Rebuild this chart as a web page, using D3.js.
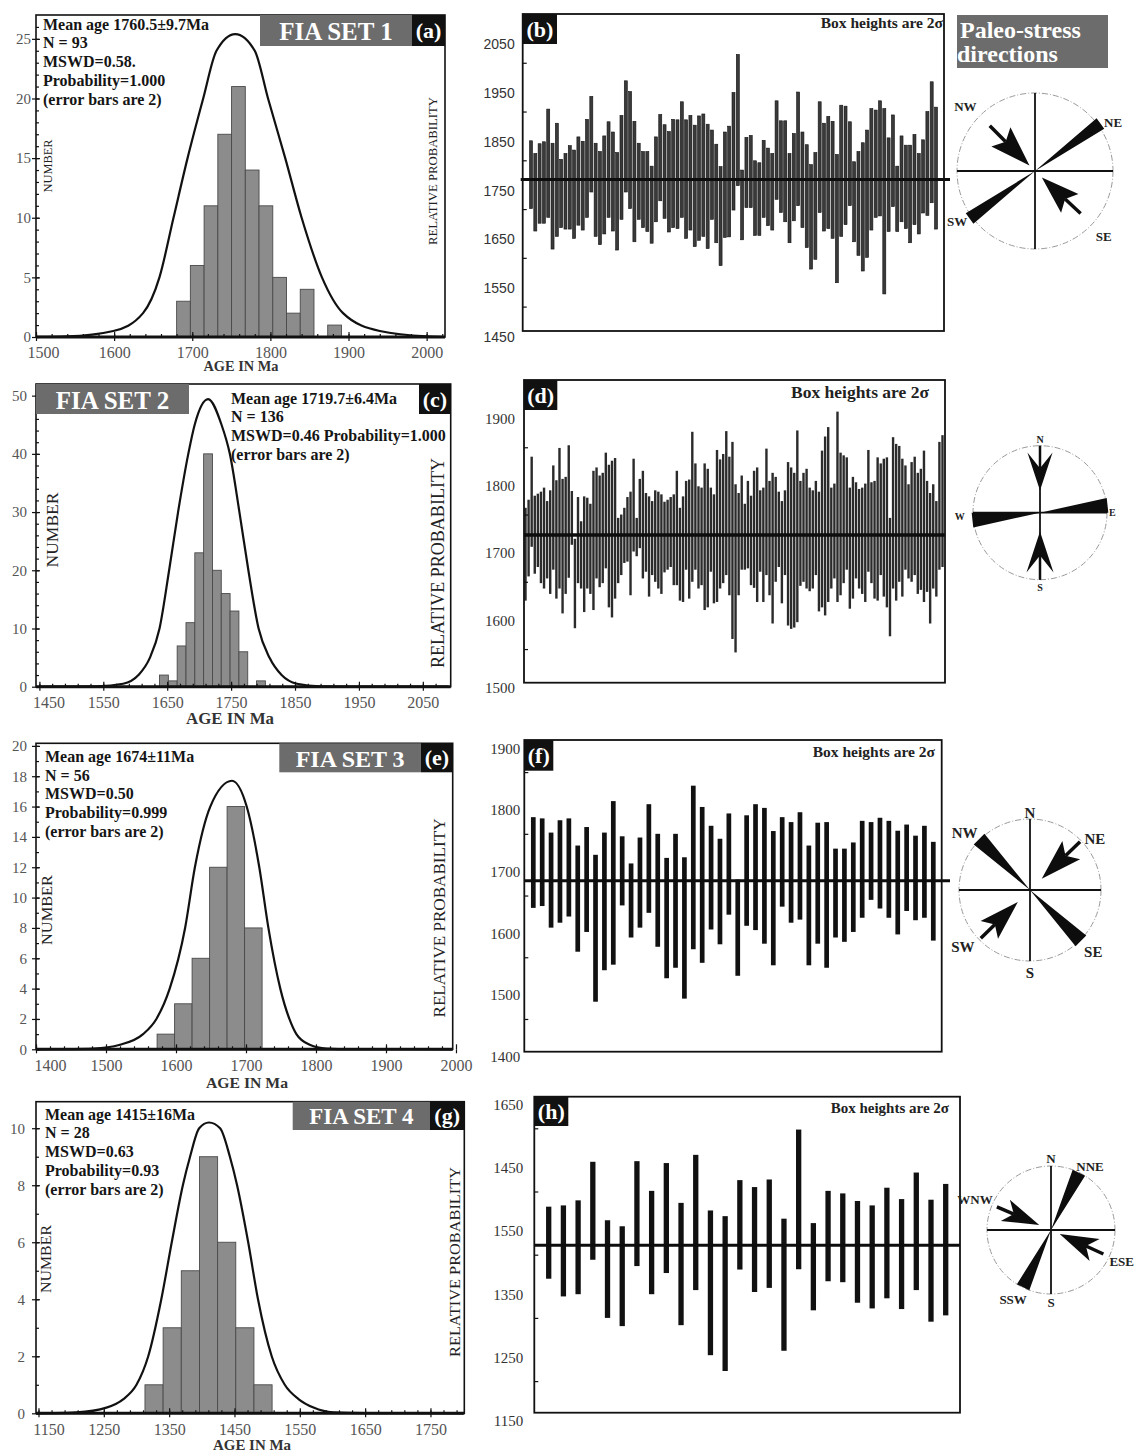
<!DOCTYPE html>
<html>
<head>
<meta charset="utf-8">
<script src="https://cdn.jsdelivr.net/npm/d3@7"></script>
<style>
  html,body{margin:0;padding:0;background:#fff;}
  svg{display:block;}
</style>
</head>
<body>
<svg id="fig" width="1137" height="1453"></svg>
<script>
// ---------------- data ----------------
const setNames = ["FIA SET 1", "FIA SET 2", "FIA SET 3", "FIA SET 4"];
const panelTags = ["(a)", "(b)", "(c)", "(d)", "(e)", "(f)", "(g)", "(h)"];
const meanAges = [1760.5, 1719.7, 1674, 1415];

const statsA = ["Mean age 1760.5±9.7Ma", "N = 93", "MSWD=0.58.", "Probability=1.000", "(error bars are 2)"];
const statsC = ["Mean age 1719.7±6.4Ma", "N = 136", "MSWD=0.46 Probability=1.000", "(error bars are 2)"];
const statsE = ["Mean age 1674±11Ma", "N = 56", "MSWD=0.50", "Probability=0.999", "(error bars are 2)"];
const statsG = ["Mean age 1415±16Ma", "N = 28", "MSWD=0.63", "Probability=0.93", "(error bars are 2)"];

// histogram bins (Ma) and counts
const binStarts = [1680, 1638, 1573, 1313];
const binWidths = [17.58, 13.8, 25, 27.8];
const countsA = [3, 6, 11, 17, 21, 14, 11, 5, 2, 4, 0, 1];
const countsC = [2, 1, 7, 11, 23, 40, 20, 16, 13, 6, 0, 1];
const countsE = [1, 3, 6, 12, 16, 8];
const countsG = [1, 3, 5, 9, 6, 3, 1];

// relative probability curves [age Ma, height in NUMBER units]
const probA = [[1500,0.01],[1540,0.05],[1599,0.5],[1637,2],[1658,5],[1676,10],[1694,15],[1714,20],[1731,24],[1755,25.4],[1780,24],[1797,20],[1819,15],[1840,10],[1866,5],[1893,2],[1940,0.5],[2000,0.05],[2020,0.02]];
const probC = [[1450,0],[1500,0.01],[1540,0.05],[1581,0.5],[1605,2],[1623,5],[1638,10],[1653,20],[1667,30],[1683,40],[1693,45],[1714,49.4],[1735,45],[1748,40],[1763,30],[1777,20],[1793,10],[1810,5],[1829,2],[1853,0.5],[1889,0.05],[1950,0.005],[2090,0]];
const probE = [[1400,0],[1440,0.01],[1482,0.05],[1520,0.3],[1553,1],[1572,2],[1591,4],[1613,8],[1627,12],[1649,16],[1680,17.7],[1701,16],[1719,12],[1732,8],[1749,4],[1762,2],[1772,1],[1791,0.3],[1815,0.05],[1850,0.01],[1995,0]];
const probG = [[1150,0],[1170,0.005],[1208,0.03],[1254,0.2],[1280,0.5],[1300,1],[1318,2],[1338,4],[1354,6],[1371,8],[1382,9],[1396,10],[1411,10.2],[1428,10],[1443,9],[1454,8],[1471,6],[1486,4],[1507,2],[1527,1],[1548,0.5],[1571,0.2],[1601,0.03],[1650,0.003],[1800,0]];

// axis tick values
const ageTicksA = [1500, 1600, 1700, 1800, 1900, 2000];
const ageTicksC = [1450, 1550, 1650, 1750, 1850, 1950, 2050];
const ageTicksE = [1400, 1500, 1600, 1700, 1800, 1900, 2000];
const ageTicksG = [1150, 1250, 1350, 1450, 1550, 1650, 1750];
const numTicksA = [0, 5, 10, 15, 20, 25];
const numTicksC = [0, 10, 20, 30, 40, 50];
const numTicksE = [0, 2, 4, 6, 8, 10, 12, 14, 16, 18, 20];
const numTicksG = [0, 2, 4, 6, 8, 10];

// individual ages: upper and lower ends of the 2-sigma boxes (Ma)
const highB = [1840,1814,1834,1838,1905,1835,1876,1802,1814,1830,1821,1848,1839,1884,1931,1835,1818,1850,1879,1858,1816,1892,1963,1941,1880,1835,1818,1818,1788,1848,1894,1873,1859,1884,1883,1920,1883,1892,1872,1891,1895,1874,1862,1833,1787,1858,1870,1939,2017,1780,1847,1851,1799,1795,1841,1825,1814,1922,1881,1881,1814,1855,1940,1858,1832,1791,1816,1920,1876,1890,1880,1812,1913,1911,1879,1797,1818,1836,1862,1906,1903,1922,1906,1846,1893,1788,1850,1831,1831,1853,1814,1842,1900,1961,1909];
const lowB = [1701,1655,1671,1671,1683,1618,1644,1662,1659,1659,1640,1667,1657,1683,1735,1644,1627,1649,1683,1655,1616,1679,1735,1701,1633,1679,1662,1654,1630,1674,1717,1681,1653,1662,1660,1683,1640,1657,1623,1636,1644,1619,1679,1631,1584,1642,1643,1698,1748,1637,1703,1703,1646,1646,1683,1666,1657,1720,1693,1674,1631,1676,1707,1662,1621,1577,1597,1693,1655,1660,1640,1549,1644,1668,1707,1633,1605,1573,1601,1657,1683,1686,1526,1654,1705,1654,1674,1660,1631,1668,1649,1692,1687,1713,1659];

const highD = [1760,1772,1836,1778,1781,1784,1790,1770,1786,1823,1801,1849,1803,1806,1853,1785,1714,
  1776,1740,1777,1775,1766,1815,1820,1808,1812,1842,1824,1830,1834,1745,1750,1760,1776,
  1784,1833,1745,1803,1815,1782,1777,1770,1786,1784,1780,1769,1772,1776,1780,1815,1760,
  1777,1800,1802,1873,1826,1792,1790,1826,1818,1790,1780,1846,1832,1840,1874,1836,1858,
  1795,1782,1808,1766,1800,1778,1815,1820,1786,1790,1848,1800,1812,1806,1784,1770,1786,
  1828,1820,1812,1875,1800,1812,1818,1790,1786,1800,1784,1845,1866,1880,1790,1796,1903,
  1842,1838,1835,1790,1806,1798,1788,1790,1796,1846,1798,1800,1835,1826,1833,1835,1745,
  1865,1855,1852,1833,1823,1795,1828,1836,1812,1818,1845,1800,1782,1795,1770,1858,1868];
const lowD = [1622,1658,1702,1662,1672,1648,1640,1655,1632,1668,1625,1640,1603,1632,1656,1705,1581,
  1648,1640,1605,1640,1632,1608,1655,1642,1648,1670,1612,1597,1625,1648,1660,1678,1680,
  1630,1695,1688,1700,1655,1665,1628,1660,1650,1640,1632,1664,1668,1672,1645,1645,1622,
  1620,1668,1625,1650,1668,1640,1645,1608,1612,1665,1618,1620,1640,1648,1660,1630,1565,
  1545,1630,1668,1668,1670,1645,1641,1620,1665,1620,1660,1630,1588,1650,1672,1618,1660,
  1585,1580,1582,1590,1644,1650,1640,1636,1640,1660,1606,1612,1600,1620,1640,1655,1620,
  1630,1648,1668,1610,1625,1655,1640,1632,1620,1665,1648,1625,1622,1660,1628,1612,1569,
  1640,1622,1650,1628,1668,1655,1650,1660,1632,1638,1620,1635,1588,1640,1628,1668,1672];

const highF = [1777,1775,1752,1772,1775,1731,1761,1716,1752,1803,1746,1702,1744,1798,1750,1711,1750,1712,1828,1793.5,1763,1742,1783,1676,1780,1798,1792,1754.5,1777,1769,1785,1731,1768,1769,1726,1726,1736,1771,1769,1776,1771,1755,1765,1747,1763,1737];
const lowF = [1630,1633,1598,1606,1616,1559,1591,1478,1529,1538,1634,1582,1598,1622,1567,1516,1533,1483,1563,1541,1595,1571,1619,1520,1601,1594,1572,1537,1632,1606,1611,1537,1572,1533,1582,1575,1591,1614,1643,1629,1614,1587,1625,1610,1614,1577];

const highH = [1476,1478,1486,1547,1454.5,1445,1548,1501,1545,1482,1558,1470,1461,1518,1507,1519,1457,1598,1450,1501,1497,1485,1478,1506,1488,1530,1487,1512];
const lowH = [1362,1334,1337.5,1392,1300,1287,1382,1337.5,1371,1288.5,1344,1241,1216,1376.5,1341,1347.5,1248,1377,1312,1358,1356.5,1324,1315,1331,1314,1344,1294,1304];

const ageTicksB = [1450, 1550, 1650, 1750, 1850, 1950, 2050];
const ageTicksD = [1500, 1600, 1700, 1800, 1900];
const ageTicksF = [1400, 1500, 1600, 1700, 1800, 1900];
const ageTicksH = [1150, 1250, 1350, 1450, 1550, 1650];
const ageTickTextH = ["1150", "1250", "1350", "1550", "1450", "1650"];

// paleo-stress directions (azimuth, degrees clockwise from north)
const foliationAz = [54, 83.75, 315, 26];
const stressAz = [[315, 133], [0, 180], [46, 225.6], [293.2, 114.6]];
const compassText = [["NW", "NE", "SW", "SE"], ["N", "S", "W", "E"], ["N", "S", "NW", "NE", "SW", "SE"], ["N", "NNE", "WNW", "S", "SSW", "ESE"]];

// ---------------- drawing ----------------
const SERIF = '"Liberation Serif","Times New Roman",Times,serif';
const SANS = '"Liberation Sans",Arial,Helvetica,sans-serif';
const GREY_BOX = "#6c6c6c";
const svg = d3.select("#fig");

function styleAxis(sel, color, size, family) {
  sel.select(".domain").remove();
  sel.attr("font-family", family).attr("font-size", size);
  sel.selectAll(".tick line").attr("stroke", "#111").attr("stroke-width", 1.2);
  sel.selectAll(".tick text").attr("fill", color);
}

function tagBox(g, x, y, w, h, text, size) {
  g.append("rect").attr("x", x).attr("y", y).attr("width", w).attr("height", h).attr("fill", "#111");
  g.append("text").attr("x", x + w / 2).attr("y", y + h / 2).attr("text-anchor", "middle")
    .attr("dominant-baseline", "central").attr("font-family", SERIF).attr("font-weight", "bold")
    .attr("font-size", size).attr("fill", "#fff").text(text);
}

function drawHist(L) {
  const x = d3.scaleLinear().domain(L.xDomain).range([L.x0, L.x1]);
  const y = d3.scaleLinear().domain([0, L.yMax]).range([L.y1, L.y0]);
  const g = svg.append("g");

  const bins = L.counts.map((c, i) => ({ lo: L.binStart + i * L.binWidth, hi: L.binStart + (i + 1) * L.binWidth, c }))
    .filter(d => d.c > 0);
  g.selectAll("rect.bin").data(bins).join("rect").attr("class", "bin")
    .attr("x", d => x(d.lo)).attr("width", d => x(d.hi) - x(d.lo))
    .attr("y", d => y(d.c)).attr("height", d => y(0) - y(d.c))
    .attr("fill", "#8c8c8c").attr("stroke", "#4a4a4a").attr("stroke-width", 0.9);

  g.append("path").datum(L.curve).attr("fill", "none").attr("stroke", "#111").attr("stroke-width", 2.2)
    .attr("d", d3.line().x(d => x(d[0])).y(d => y(d[1])).curve(d3.curveMonotoneX));

  g.append("rect").attr("x", L.x0).attr("y", L.y0).attr("width", L.x1 - L.x0).attr("height", L.y1 - L.y0)
    .attr("fill", "none").attr("stroke", "#111").attr("stroke-width", 1.6);
  g.append("line").attr("x1", L.x0).attr("x2", L.x1).attr("y1", L.y1).attr("y2", L.y1)
    .attr("stroke", "#111").attr("stroke-width", 3);

  // age axis
  const xa = g.append("g").attr("transform", `translate(0,${L.y1})`);
  xa.append("g").call(d3.axisBottom(x).tickValues(L.xMinor).tickSizeInner(-3).tickSizeOuter(0).tickFormat(""))
    .call(s => styleAxis(s, "#555", 16, SERIF));
  xa.append("g").call(d3.axisBottom(x).tickValues(L.xTicks).tickSizeInner(-5).tickSizeOuter(0).tickFormat(""))
    .call(s => styleAxis(s, "#555", 16, SERIF));
  const xl = xa.append("g").call(d3.axisBottom(x).tickValues(L.xTicks).tickSizeInner(4).tickSizeOuter(0)
    .tickPadding(6).tickFormat(d3.format("d"))).call(s => styleAxis(s, "#555", 16, SERIF));
  xl.selectAll(".tick text").filter((d, i) => i === 0).attr("dx", L.firstDx);

  // number axis
  const ya = g.append("g").attr("transform", `translate(${L.x0},0)`);
  ya.append("g").call(d3.axisLeft(y).tickValues(L.yMinor).tickSizeInner(-3).tickSizeOuter(0).tickFormat(""))
    .call(s => styleAxis(s, "#555", 15, SERIF));
  ya.append("g").call(d3.axisLeft(y).tickValues(L.yTicks).tickSizeInner(-4).tickSizeOuter(0).tickFormat(""))
    .call(s => styleAxis(s, "#555", 15, SERIF));
  ya.append("g").call(d3.axisLeft(y).tickValues(L.yTicks).tickSizeInner(4).tickSizeOuter(0)
    .tickPadding(L.yPad).tickFormat(d3.format("d"))).call(s => styleAxis(s, "#555", 15, SERIF));

  // titles
  g.append("text").attr("transform", `translate(${L.numX},${L.numY}) rotate(-90)`)
    .attr("text-anchor", "middle").attr("dominant-baseline", "central")
    .attr("font-family", SERIF).attr("font-size", L.numSize).attr("fill", "#222")
    .attr("textLength", L.numLen).attr("lengthAdjust", "spacingAndGlyphs").text("NUMBER");
  g.append("text").attr("transform", `translate(${L.relX},${L.relY}) rotate(-90)`)
    .attr("text-anchor", "middle").attr("dominant-baseline", "central")
    .attr("font-family", SERIF).attr("font-size", L.relSize).attr("fill", "#222")
    .attr("textLength", L.relLen).attr("lengthAdjust", "spacingAndGlyphs").text("RELATIVE PROBABILITY");
  g.append("text").attr("x", L.ageX).attr("y", L.ageY).attr("text-anchor", "middle")
    .attr("dominant-baseline", "central").attr("font-family", SERIF).attr("font-weight", "bold")
    .attr("font-size", L.ageSize).attr("fill", "#333")
    .attr("textLength", L.ageLen).attr("lengthAdjust", "spacingAndGlyphs").text("AGE IN Ma");

  // set title and panel tag
  g.append("rect").attr("x", L.box.gx).attr("y", L.box.y).attr("width", L.box.gw).attr("height", L.box.h).attr("fill", GREY_BOX);
  g.append("text").attr("x", L.box.gx + L.box.gw / 2).attr("y", L.box.y + L.box.h / 2 + 1)
    .attr("text-anchor", "middle").attr("dominant-baseline", "central")
    .attr("font-family", SERIF).attr("font-weight", "bold").attr("font-size", L.box.fs).attr("fill", "#fff").text(L.name);
  tagBox(g, L.box.lx, L.box.y, L.box.lw, L.box.h, L.tag, 22);

  // statistics
  g.selectAll("text.stat").data(L.stats).join("text").attr("class", "stat")
    .attr("x", L.statX).attr("y", (d, i) => L.statY + i * L.statDy)
    .attr("dominant-baseline", "central").attr("font-family", SERIF).attr("font-weight", "bold")
    .attr("font-size", 16).attr("fill", "#151515").text(d => d);
}

function drawBoxes(R) {
  const y = d3.scaleLinear().domain(R.yDomain).range([R.y1, R.y0]);
  const x = d3.scalePoint().domain(d3.range(R.high.length)).range([R.bx0, R.bx1]);
  const g = svg.append("g");
  const rows = R.high.map((h, i) => ({ i, h, l: R.low[i] }));
  g.selectAll("rect.box").data(rows).join("rect").attr("class", "box")
    .attr("x", d => x(d.i) - R.bw / 2).attr("width", R.bw)
    .attr("y", d => y(d.h)).attr("height", d => y(d.l) - y(d.h))
    .attr("fill", R.fill).attr("stroke", R.stroke).attr("stroke-width", 0.6);

  g.append("line").attr("x1", R.mx0).attr("x2", R.mx1).attr("y1", y(R.mean)).attr("y2", y(R.mean))
    .attr("stroke", "#0d0d0d").attr("stroke-width", R.mw);

  g.append("rect").attr("x", R.x0).attr("y", R.y0).attr("width", R.x1 - R.x0).attr("height", R.y1 - R.y0)
    .attr("fill", "none").attr("stroke", "#111").attr("stroke-width", 1.8);

  const ya = g.append("g").attr("transform", `translate(${R.x0},0)`);
  ya.append("g").call(d3.axisLeft(y).tickValues(R.minor).tickSizeInner(-4).tickSizeOuter(0).tickFormat(""))
    .call(s => styleAxis(s, "#333", R.fs, R.family));
  const labelOf = R.tickText ? new Map(R.ticks.map((v, i) => [v, R.tickText[i]])) : null;
  const yl = ya.append("g").call(d3.axisLeft(y).tickValues(R.ticks).tickSize(0).tickPadding(R.pad)
    .tickFormat(d => labelOf ? labelOf.get(d) : String(d))).call(s => styleAxis(s, R.color, R.fs, R.family));
  yl.selectAll(".tick text").attr("transform", `translate(0,${R.dy})`).attr("font-weight", R.weight || "normal");

  tagBox(g, R.x0, R.y0, R.tagW, R.tagH, R.tag, 22);
  g.append("text").attr("x", R.noteX).attr("y", R.noteY).attr("text-anchor", "end")
    .attr("font-family", SERIF).attr("font-weight", "bold").attr("font-size", R.noteSize)
    .attr("fill", "#222").text("Box heights are 2σ");
}

function drawRose(C) {
  const rad = a => a * Math.PI / 180;
  const P = (az, r) => [C.cx + r * Math.sin(rad(az)), C.cy - r * Math.cos(rad(az))];
  const g = svg.append("g");
  g.append("circle").attr("cx", C.cx).attr("cy", C.cy).attr("r", C.R).attr("fill", "none")
    .attr("stroke", "#9a9a9a").attr("stroke-width", 1).attr("stroke-dasharray", "6,2,1,2");
  [[0, 180], [90, 270]].forEach(([a, b]) => {
    const p = P(a, C.R), q = P(b, C.R);
    g.append("line").attr("x1", p[0]).attr("y1", p[1]).attr("x2", q[0]).attr("y2", q[1])
      .attr("stroke", "#111").attr("stroke-width", 1.8);
  });
  // foliation trend as a bow-tie through the centre
  const L = C.wedgeLen * C.R, az = C.wedgeAz, h = C.wedgeHalf;
  const bow = [[C.cx, C.cy], P(az - h, L), P(az + h, L), [C.cx, C.cy], P(az + 180 - h, L), P(az + 180 + h, L)];
  g.append("path").attr("d", d3.line()(bow) + "Z").attr("fill", "#0d0d0d");
  // converging stress arrows
  C.arrowAz.forEach((a, k) => {
    const s = P(a, C.from[k] * C.R), t = P(a, C.to[k] * C.R);
    const len = Math.hypot(t[0] - s[0], t[1] - s[1]);
    const u = [(t[0] - s[0]) / len, (t[1] - s[1]) / len], n = [-u[1], u[0]];
    const b = [t[0] - u[0] * C.head.len * len, t[1] - u[1] * C.head.len * len];
    const hw = C.head.half * len;
    const notch = [t[0] - u[0] * C.head.notch * len, t[1] - u[1] * C.head.notch * len];
    g.append("line").attr("x1", s[0]).attr("y1", s[1]).attr("x2", notch[0]).attr("y2", notch[1])
      .attr("stroke", "#0d0d0d").attr("stroke-width", C.shaft);
    g.append("path").attr("d", d3.line()([t, [b[0] + n[0] * hw, b[1] + n[1] * hw], notch, [b[0] - n[0] * hw, b[1] - n[1] * hw]]) + "Z")
      .attr("fill", "#0d0d0d");
  });
  C.text.forEach((t, k) => {
    const p = P(C.labelPos[k][0], C.labelPos[k][1] * C.R);
    g.append("text").attr("x", p[0]).attr("y", p[1]).attr("text-anchor", "middle").attr("dominant-baseline", "central")
      .attr("font-family", SERIF).attr("font-weight", "bold").attr("font-size", C.fs).attr("fill", "#222").text(t);
  });
}

// ---- left column: age histograms ----
drawHist({
  x0: 36, x1: 445, y0: 15, y1: 337, xDomain: [1500, 2023.5], yMax: 27,
  counts: countsA, binStart: binStarts[0], binWidth: binWidths[0], curve: probA,
  xTicks: ageTicksA, xMinor: d3.range(1500, 2021, 20), yTicks: numTicksA, yMinor: d3.range(0, 27, 1),
  firstDx: 7, yPad: 1,
  numX: 47, numY: 166, numSize: 13, numLen: 53,
  relX: 432, relY: 171, relSize: 13, relLen: 148,
  ageX: 241, ageY: 366, ageSize: 14, ageLen: 75,
  name: setNames[0], tag: panelTags[0], box: { gx: 260, gw: 152, lx: 412, lw: 33, y: 15, h: 31, fs: 25 },
  stats: statsA, statX: 43, statY: 24, statDy: 18.8
});
drawHist({
  x0: 36, x1: 450.7, y0: 384, y1: 686.7, xDomain: [1444.7, 2093.6], yMax: 52,
  counts: countsC, binStart: binStarts[1], binWidth: binWidths[1], curve: probC,
  xTicks: ageTicksC, xMinor: d3.range(1450, 2090, 20), yTicks: numTicksC, yMinor: d3.range(0, 52, 2),
  firstDx: 9, yPad: 5,
  numX: 52, numY: 530, numSize: 17, numLen: 75,
  relX: 438, relY: 563, relSize: 18, relLen: 210,
  ageX: 230, ageY: 718, ageSize: 16, ageLen: 88,
  name: setNames[1], tag: panelTags[2], box: { gx: 36, gw: 153, lx: 419, lw: 31.7, y: 384, h: 30, fs: 25 },
  stats: statsC, statX: 231, statY: 398, statDy: 18.7
});
drawHist({
  x0: 36, x1: 452.7, y0: 743.3, y1: 1049.3, xDomain: [1400, 1995.3], yMax: 20.17,
  counts: countsE, binStart: binStarts[2], binWidth: binWidths[2], curve: probE,
  xTicks: ageTicksE, xMinor: d3.range(1400, 1995, 20), yTicks: numTicksE, yMinor: d3.range(0, 20.5, 1),
  firstDx: 14, yPad: 5,
  numX: 47, numY: 910, numSize: 15, numLen: 70,
  relX: 439, relY: 918, relSize: 16, relLen: 199,
  ageX: 247, ageY: 1083, ageSize: 15, ageLen: 82,
  name: setNames[2], tag: panelTags[4], box: { gx: 279.3, gw: 141.7, lx: 421, lw: 31.7, y: 743.3, h: 29, fs: 24 },
  stats: statsE, statX: 45, statY: 756.7, statDy: 18.6
});
drawHist({
  x0: 36, x1: 464.3, y0: 1101.7, y1: 1413.3, xDomain: [1146.2, 1801.8], yMax: 10.93,
  counts: countsG, binStart: binStarts[3], binWidth: binWidths[3], curve: probG,
  xTicks: ageTicksG, xMinor: d3.range(1150, 1800, 20), yTicks: numTicksG, yMinor: d3.range(0, 10.9, 1),
  firstDx: 10, yPad: 7,
  numX: 46, numY: 1259, numSize: 15, numLen: 68,
  relX: 455, relY: 1262, relSize: 15, relLen: 190,
  ageX: 252, ageY: 1445, ageSize: 14, ageLen: 78,
  name: setNames[3], tag: panelTags[6], box: { gx: 292.7, gw: 137.3, lx: 430, lw: 34.3, y: 1101.7, h: 28.3, fs: 23 },
  stats: statsG, statX: 45, statY: 1114, statDy: 18.8
});

// ---- middle column: individual ages with 2-sigma boxes ----
drawBoxes({
  x0: 522.7, x1: 944, y0: 14, y1: 331, yDomain: [1450, 2100],
  high: highB, low: lowB, mean: meanAges[0], bx0: 531, bx1: 936, bw: 3, fill: "#3a3a3a", stroke: "#111",
  mx0: 520.7, mx1: 950, mw: 3,
  ticks: ageTicksB, minor: d3.range(1500, 2001, 100), pad: 8, dy: 6, fs: 14, family: SANS, color: "#333",
  tag: panelTags[1], tagW: 34.3, tagH: 30, noteX: 943, noteY: 28, noteSize: 15.5
});
drawBoxes({
  x0: 524, x1: 945, y0: 380, y1: 682.7, yDomain: [1500, 1950],
  high: highD, low: lowD, mean: meanAges[1], bx0: 525.5, bx1: 942.5, bw: 2.4, fill: "#2b2b2b", stroke: "none",
  mx0: 524, mx1: 945, mw: 3.5,
  ticks: ageTicksD, minor: [1550, 1650, 1750, 1850], pad: 9, dy: 5, fs: 15, family: SERIF, color: "#333",
  tag: panelTags[3], tagW: 33.3, tagH: 30, noteX: 929, noteY: 398, noteSize: 17.5
});
drawBoxes({
  x0: 524.3, x1: 941.7, y0: 740, y1: 1051.7, yDomain: [1397, 1902],
  high: highF, low: lowF, mean: meanAges[2], bx0: 533.3, bx1: 933.3, bw: 4.7, fill: "#111", stroke: "none",
  mx0: 524.3, mx1: 950, mw: 3,
  ticks: ageTicksF, minor: [1450, 1550, 1650, 1750, 1850], pad: 4, dy: 7, fs: 15, family: SERIF, color: "#333",
  tag: panelTags[5], tagW: 29, tagH: 30.7, noteX: 935, noteY: 757, noteSize: 15.5
});
drawBoxes({
  x0: 534.3, x1: 960, y0: 1096.7, y1: 1412.7, yDomain: [1150, 1650],
  high: highH, low: lowH, mean: meanAges[3], bx0: 548.7, bx1: 945.7, bw: 5.3, fill: "#111", stroke: "none",
  mx0: 534.3, mx1: 960, mw: 3,
  ticks: ageTicksH, tickText: ageTickTextH, minor: [1200, 1300, 1400, 1500, 1600], pad: 11, dy: 8, fs: 15, family: SERIF, color: "#333",
  tag: panelTags[7], tagW: 34, tagH: 29.3, noteX: 949, noteY: 1113, noteSize: 15
});

// ---- right column: paleo-stress directions ----
svg.append("rect").attr("x", 957).attr("y", 15).attr("width", 151).attr("height", 53).attr("fill", GREY_BOX);
svg.append("text").attr("x", 960).attr("y", 38).attr("font-family", SERIF).attr("font-weight", "bold")
  .attr("font-size", 24).attr("fill", "#fff").text("Paleo-stress");
svg.append("text").attr("x", 957).attr("y", 62).attr("font-family", SERIF).attr("font-weight", "bold")
  .attr("font-size", 24).attr("fill", "#fff").text("directions");

drawRose({
  cx: 1035, cy: 171, R: 78, wedgeAz: foliationAz[0], wedgeHalf: 4.6, wedgeLen: 1.04,
  arrowAz: stressAz[0], from: [0.82, 0.8], to: [0.1, 0.12], head: { len: 0.72, half: 0.24, notch: 0.6 }, shaft: 3.5,
  text: compassText[0], labelPos: [[313, 1.22], [58, 1.18], [237, 1.19], [133.7, 1.22]], fs: 13
});
drawRose({
  cx: 1040, cy: 512.7, R: 67, wedgeAz: foliationAz[1], wedgeHalf: 6.25, wedgeLen: 1.02,
  arrowAz: stressAz[1], from: [1.0, 1.0], to: [0.33, 0.28], head: { len: 0.85, half: 0.28, notch: 0.5 }, shaft: 2.5,
  text: compassText[1], labelPos: [[0, 1.1], [180, 1.12], [267, 1.2], [90, 1.08]], fs: 10
});
drawRose({
  cx: 1030, cy: 890, R: 71, wedgeAz: foliationAz[2], wedgeHalf: 6, wedgeLen: 1.02,
  arrowAz: stressAz[2], from: [0.98, 0.97], to: [0.23, 0.24], head: { len: 0.77, half: 0.24, notch: 0.62 }, shaft: 3.5,
  text: compassText[2], labelPos: [[0, 1.08], [180, 1.17], [311, 1.22], [52, 1.16], [229.6, 1.24], [134.5, 1.25]], fs: 15
});
drawRose({
  cx: 1051, cy: 1230, R: 64, wedgeAz: foliationAz[3], wedgeHalf: 6.2, wedgeLen: 1.0,
  arrowAz: stressAz[3], from: [0.92, 0.9], to: [0.2, 0.15], head: { len: 0.8, half: 0.25, notch: 0.6 }, shaft: 3.5,
  text: compassText[3], labelPos: [[0, 1.12], [31.4, 1.17], [292, 1.28], [180, 1.14], [208.5, 1.24], [114, 1.21]], fs: 13
});
</script>
</body>
</html>
